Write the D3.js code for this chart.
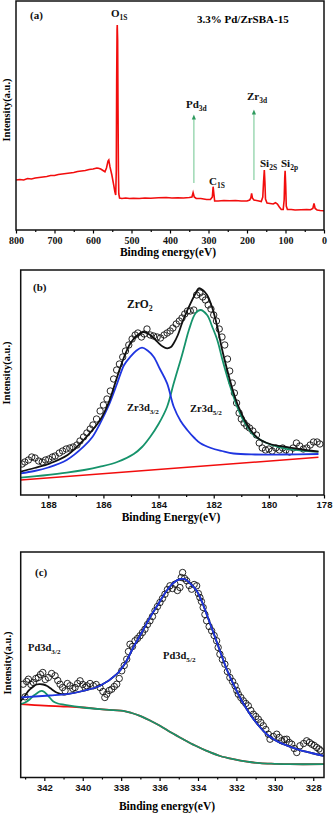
<!DOCTYPE html>
<html>
<head>
<meta charset="utf-8">
<script src="https://cdn.jsdelivr.net/npm/d3@7"></script>
<style>
  body { margin: 0; background: #fff; }
  svg { display: block; }
  .tick text { font-weight: bold; }
</style>
</head>
<body>
<div id="chart"></div>
<script>
// ---- panel (a): survey spectrum, [binding energy, intensity] ----
const surveyA = [
  [800, 50], [790, 50.5], [780, 50], [770, 51.5], [760, 51], [750, 52], [740, 52.5], [730, 53],
  [720, 53.5], [710, 54.5], [700, 54.5], [690, 55.5], [680, 56], [670, 56.5], [660, 57], [650, 57.5],
  [640, 58.5], [630, 59], [620, 59.5], [610, 60.5], [600, 61], [590, 62], [586, 61.7], [580, 61],
  [574, 59.5], [569, 58.3], [565, 62], [561, 69], [559, 70], [556, 63.3], [551, 55], [547, 46.7],
  [543, 38], [541, 35], [539.5, 60], [538.5, 150], [537.5, 200], [537, 205], [536, 190], [535, 120],
  [534, 60], [533, 36], [531, 32], [525, 31.5], [515, 32], [505, 31.5], [495, 31.8], [480, 31.5],
  [465, 32], [450, 31.8], [430, 32.2], [410, 32.5], [395, 32], [380, 32.3], [365, 32], [350, 32.5],
  [343, 33], [340, 37.3], [337, 33], [332, 31.5], [320, 31.5], [305, 30.5], [295, 30.5], [290, 33],
  [288, 43.3], [286, 36], [284, 29], [275, 29], [260, 29.5], [245, 29.2], [230, 29.5], [215, 29],
  [200, 29], [193, 30], [190, 32], [188, 36.7], [186, 32], [182, 30], [172, 29.2], [163, 28.5],
  [159, 33], [157, 48], [155, 60], [153.5, 48], [152, 31], [148, 27], [140, 26.5], [132, 26],
  [126, 27.3], [121, 26], [116, 23], [111, 20.5], [106, 20.5], [103.5, 30], [102, 52], [101, 59.3],
  [99.5, 45], [98, 24], [95, 20.5], [85, 20.5], [75, 20], [60, 20.2], [45, 20.5], [35, 20.2],
  [29, 21.5], [26, 26.7], [23, 21.5], [18, 20], [10, 19.5], [0, 19.3]
];
const arrowsA = [
  { be: 338, from: 47, to: 113 },
  { be: 182, from: 50, to: 118 }
];
const ticksA = [800, 700, 600, 500, 400, 300, 200, 100, 0];
const minorA = [750, 650, 550, 450, 350, 250, 150, 50];

// ---- panel (b): Zr 3d ----
const scatterB = [
  [188.95, 31], [188.85, 33], [188.72, 35], [188.6, 38], [188.48, 37], [188.35, 34], [188.22, 33],
  [188.1, 35], [187.98, 36], [187.85, 38], [187.75, 39], [187.6, 42], [187.48, 44], [187.35, 46],
  [187.22, 47], [187.1, 48], [186.96, 50], [186.85, 54], [186.72, 58], [186.6, 62], [186.48, 66],
  [186.38, 70], [186.25, 76], [186.12, 84], [186.0, 90], [185.87, 96], [185.75, 104], [185.63, 116],
  [185.52, 125], [185.42, 131], [185.3, 138], [185.2, 144], [185.08, 150], [184.96, 156], [184.85, 160],
  [184.75, 162], [184.62, 158], [184.52, 161], [184.42, 166], [184.3, 160], [184.18, 159], [184.05, 158],
  [183.93, 157], [183.8, 160], [183.69, 162], [183.58, 164], [183.48, 167], [183.36, 171], [183.25, 174],
  [183.15, 177], [183.05, 181], [182.95, 184], [182.85, 184], [182.72, 185], [182.62, 200], [182.5, 202],
  [182.4, 198], [182.3, 195], [182.2, 190], [182.1, 186], [182.0, 180], [181.9, 174], [181.8, 166],
  [181.7, 158], [181.6, 150], [181.5, 136], [181.42, 124], [181.33, 112], [181.25, 102], [181.17, 92],
  [181.08, 82], [181.0, 76], [180.9, 72], [180.8, 69], [180.7, 67], [180.58, 64], [180.45, 60],
  [180.35, 52], [180.24, 47], [180.12, 45], [180.0, 46], [179.88, 44], [179.75, 47], [179.62, 45],
  [179.5, 47], [179.38, 45], [179.25, 43], [179.12, 47], [179.0, 52], [178.88, 49], [178.75, 46],
  [178.62, 47], [178.5, 50], [178.38, 53], [178.25, 53], [178.15, 51]
];
const envelopeB = [
  [189, 23.3], [188.5, 27], [187.93, 31.7], [187.3, 40], [186.72, 55], [186.12, 75], [185.8, 93],
  [185.5, 118.3], [185.25, 138], [185.02, 151.7], [184.8, 159], [184.55, 163], [184.3, 160],
  [184.05, 153.3], [183.85, 148.5], [183.69, 146.7], [183.55, 148], [183.45, 151.7], [183.3, 160],
  [183.15, 171.7], [183.0, 182], [182.84, 191.7], [182.65, 202], [182.54, 206.7], [182.4, 205],
  [182.24, 200], [182.05, 187], [181.87, 168.3], [181.7, 146], [181.51, 125], [181.3, 104],
  [181.15, 91.7], [180.95, 79], [180.78, 70], [180.55, 61], [180.3, 55], [179.9, 50.5],
  [179.45, 48.3], [178.8, 45.5], [178.2, 43.3]
];
const peak32B = [
  [189, 21.7], [188.5, 24], [188.0, 27.5], [187.33, 35], [186.72, 48.3], [186.4, 58], [186.12, 71.7],
  [185.8, 90], [185.5, 111.7], [185.25, 130], [185.02, 138.3], [184.8, 144.5], [184.6, 147.3],
  [184.4, 144.5], [184.18, 138.3], [183.95, 126], [183.69, 111.7], [183.45, 88.3], [183.2, 74],
  [182.96, 65], [182.7, 57], [182.48, 51.7], [182.1, 47], [181.7, 44], [181.28, 41.5], [180.5, 40.5],
  [179.5, 40.5], [178.2, 41]
];
const peak52B = [
  [189, 17.3], [188.2, 19.5], [187.33, 22.3], [186.7, 25], [186.12, 28.3], [185.5, 33], [184.9, 41],
  [184.6, 48], [184.3, 58.3], [184.0, 71], [183.69, 88.3], [183.45, 111.7], [183.2, 135], [183.05, 150],
  [182.9, 165], [182.66, 181.7], [182.48, 185], [182.24, 180], [182.05, 168], [181.87, 155],
  [181.7, 137], [181.51, 118.3], [181.3, 100], [181.15, 88.3], [180.95, 76], [180.78, 68.3],
  [180.55, 60], [180.3, 55], [179.9, 50], [179.45, 46.7], [178.8, 44.5], [178.2, 43.3]
];
const baseB = [[189, 15], [178.2, 37.7]];
const ticksB = [188, 186, 184, 182, 180, 178];
const minorB = [187, 185, 183, 181, 179];

// ---- panel (c): Pd 3d ----
const scatterC = [
  [343.1, 93.3], [343.0, 80.7], [342.92, 96], [342.83, 98.3], [342.7, 93], [342.57, 95], [342.44, 99],
  [342.31, 100], [342.2, 103], [342.08, 105], [341.95, 98], [341.79, 100], [341.62, 104], [341.44, 101.7],
  [341.3, 97], [341.18, 93.3], [341.05, 90], [340.92, 86.7], [340.8, 94], [340.66, 91.7], [340.52, 89],
  [340.4, 90], [340.27, 94], [340.14, 96.7], [340.0, 93], [339.88, 90], [339.79, 91.7], [339.62, 94],
  [339.45, 91.7], [339.3, 93], [339.1, 90], [338.95, 86], [338.85, 80], [338.75, 83.3], [338.62, 87],
  [338.49, 88.3], [338.36, 91], [338.23, 93.3], [338.1, 99], [337.97, 106.7], [337.84, 112],
  [337.71, 118.3], [337.62, 126], [337.54, 133.3], [337.41, 131], [337.28, 136.7], [337.15, 139],
  [337.02, 141.7], [336.89, 145], [336.76, 148.3], [336.63, 153], [336.5, 156.7], [336.37, 161],
  [336.24, 166.7], [336.11, 171], [335.98, 175], [335.85, 179], [335.72, 183.3], [335.59, 188],
  [335.46, 191.7], [335.33, 189], [335.2, 193.3], [335.07, 187], [334.94, 190], [334.87, 200],
  [334.8, 205], [334.7, 199], [334.59, 196.7], [334.46, 192], [334.33, 188.3], [334.2, 193],
  [334.07, 191.7], [333.98, 184], [333.9, 180], [333.82, 176], [333.73, 170], [333.64, 163],
  [333.55, 156.7], [333.42, 151], [333.29, 146.7], [333.16, 142], [333.03, 136.7], [332.95, 130],
  [332.86, 123.3], [332.73, 118], [332.6, 113.3], [332.47, 106], [332.34, 100], [332.2, 96],
  [332.07, 91.7], [331.98, 87], [331.9, 83.3], [331.77, 80], [331.64, 76.7], [331.51, 74],
  [331.38, 71.7], [331.25, 67], [331.12, 63.3], [330.99, 61], [330.86, 58.3], [330.73, 55],
  [330.6, 51.7], [330.47, 48], [330.34, 43.3], [330.25, 38.3], [330.08, 41], [329.9, 43.3],
  [329.77, 40], [329.64, 36.7], [329.5, 38], [329.38, 38.3], [329.25, 35], [329.12, 33.3],
  [328.99, 29], [328.86, 25], [328.69, 31.7], [328.5, 34], [328.34, 36.7], [328.2, 35],
  [328.08, 33.3], [327.95, 32], [327.82, 30], [327.7, 28.5], [327.61, 26.7]
];
const envelopeC = [
  [343.23, 76.7], [343.0, 82], [342.83, 86.7], [342.6, 90.5], [342.4, 93], [342.22, 93.3],
  [342.05, 93], [341.88, 91.7], [341.6, 88], [341.36, 85], [341.0, 83], [340.83, 83.3],
  [340.0, 86.5], [339.1, 91.7], [338.23, 103.3], [337.8, 114], [337.37, 130], [336.9, 146],
  [336.5, 160], [336.05, 174], [335.63, 186.7], [335.25, 195], [334.94, 198.3], [334.75, 198.6],
  [334.59, 197.3], [334.35, 193], [334.07, 186.7], [333.8, 176], [333.55, 163.3], [333.2, 145],
  [332.86, 126.7], [332.5, 108], [332.16, 93.3], [331.7, 76], [331.29, 63.3], [330.85, 52],
  [330.42, 43.3], [330.0, 37.5], [329.55, 33.3], [329.1, 30], [328.69, 27.3], [328.1, 24.5],
  [327.45, 21.7]
];
const peak52C = [
  [343.23, 80], [342.5, 81], [341.7, 82], [340.83, 83.3], [340.0, 86.5], [339.1, 91.7], [338.23, 103.3],
  [337.8, 114], [337.37, 130], [336.9, 146], [336.5, 160], [336.05, 174], [335.63, 186.7], [335.25, 195],
  [334.94, 198.3], [334.75, 198.6], [334.59, 197.3], [334.35, 193], [334.07, 186.7], [333.8, 176],
  [333.55, 163.3], [333.2, 145], [332.86, 126.7], [332.5, 108], [332.16, 93.3], [331.7, 76],
  [331.29, 63.3], [330.85, 52], [330.42, 43.3], [330.0, 37.5], [329.55, 33.3], [329.1, 30],
  [328.69, 27.3], [328.1, 24.5], [327.45, 21.7]
];
const peak32C = [
  [343.23, 73.3], [343.0, 75], [342.75, 78.3], [342.55, 82], [342.4, 84], [342.25, 86], [342.14, 86.7],
  [342.0, 85.5], [341.88, 83.3], [341.7, 79.5], [341.53, 76], [341.3, 74], [340.93, 72.7],
  [339.97, 70], [339.1, 68.3], [338.4, 67.3], [337.89, 66.7], [337.45, 64.5], [337.02, 61.7],
  [336.5, 57], [335.98, 51.7], [335.4, 45], [334.77, 38.3], [334.15, 32], [333.55, 26.7],
  [332.85, 21.5], [332.16, 18.3], [331.45, 15.8], [330.77, 14.3], [330.0, 13.7], [329.21, 13.3],
  [327.45, 13.3]
];
const baseC = [
  [343.23, 73.3], [342.0, 71.8], [341.0, 71], [340.0, 70], [339.1, 68.3], [338.4, 67.3],
  [337.89, 66.7], [337.45, 64.5], [337.02, 61.7], [336.5, 57], [335.98, 51.7], [335.4, 45],
  [334.77, 38.3], [334.15, 32], [333.55, 26.7], [332.85, 21.5], [332.16, 18.3], [331.45, 15.8],
  [330.77, 14.3], [330.0, 13.7], [329.21, 13.3], [327.45, 13.3]
];
const ticksC = [342, 340, 338, 336, 334, 332, 330, 328];
const minorC = [343, 341, 339, 337, 335, 333, 331, 329];

const W = 333, H = 813;
const RED = "#f20d0d", BLUE = "#1f35e0", GREEN = "#16936b", BLACK = "#111";
const serif = "'Liberation Serif', 'Times New Roman', serif";
const sans = "'Liberation Sans', Arial, sans-serif";

const svg = d3.select("#chart").append("svg")
  .attr("width", W).attr("height", H);

function panel(opt) {
  const x = d3.scaleLinear().domain(opt.xDomain).range([opt.left, opt.right]);
  const y = d3.scaleLinear().domain(opt.yDomain).range([opt.bottom, opt.top]);
  const g = svg.append("g");

  // minor + major ticks (outward)
  g.append("g")
    .attr("transform", `translate(0,${opt.bottom})`)
    .call(d3.axisBottom(x).tickValues(opt.minor).tickSize(2).tickFormat(""))
    .call(a => a.select(".domain").remove())
    .call(a => a.selectAll("line").attr("stroke-width", 1.2));
  g.append("g")
    .attr("transform", `translate(0,${opt.bottom})`)
    .call(d3.axisBottom(x).tickValues(opt.major).tickSize(3.5).tickPadding(3))
    .call(a => a.select(".domain").remove())
    .call(a => a.selectAll("line").attr("stroke-width", 1.2))
    .call(a => a.selectAll("text")
      .attr("font-family", opt.tickFont)
      .attr("font-size", opt.tickSize)
      .attr("fill", "#111"));

  const clip = "clip" + opt.id;
  svg.append("clipPath").attr("id", clip).append("rect")
    .attr("x", opt.left).attr("y", opt.top)
    .attr("width", opt.right - opt.left).attr("height", opt.bottom - opt.top);
  const plot = g.append("g").attr("clip-path", `url(#${clip})`);

  const line = d3.line()
    .x(d => x(d[0])).y(d => y(d[1]))
    .curve(opt.curve || d3.curveLinear);

  if (opt.scatter) {
    plot.selectAll("circle")
      .data(opt.scatter)
      .enter().append("circle")
      .attr("cx", d => x(d[0]))
      .attr("cy", d => y(d[1]))
      .attr("r", 3.2)
      .attr("fill", "none")
      .attr("stroke", "#111")
      .attr("stroke-width", 0.9);
  }

  opt.lines.forEach(l => {
    plot.append("path")
      .datum(l.data)
      .attr("fill", "none")
      .attr("stroke", l.color)
      .attr("stroke-width", l.width)
      .attr("d", line);
  });

  // frame
  g.append("rect")
    .attr("x", opt.left).attr("y", opt.top)
    .attr("width", opt.right - opt.left).attr("height", opt.bottom - opt.top)
    .attr("fill", "none").attr("stroke", "#111").attr("stroke-width", 1.5);

  // axis titles
  g.append("text")
    .attr("x", opt.xTitleX).attr("y", opt.xTitleY)
    .attr("text-anchor", "middle")
    .attr("font-family", serif).attr("font-weight", "bold").attr("font-size", 11.5)
    .text(opt.xTitle);
  g.append("text")
    .attr("transform", `translate(${opt.yTitleX},${opt.yTitleY}) rotate(-90)`)
    .attr("text-anchor", "middle")
    .attr("font-family", serif).attr("font-weight", "bold").attr("font-size", 10.5)
    .text("Intensity(a.u.)");

  return { x, y, g };
}

// label with optional subscript
function label(g, px, py, main, sub, size, rest) {
  const t = g.append("text")
    .attr("x", px).attr("y", py)
    .attr("font-family", serif).attr("font-weight", "bold")
    .attr("font-size", size).attr("fill", "#111");
  t.append("tspan").text(main);
  if (sub) {
    t.append("tspan").attr("font-size", size * 0.68).attr("dy", size * 0.25).text(sub);
  }
  if (rest) {
    t.append("tspan").attr("dy", -size * 0.25).text(rest);
  }
  return t;
}

// ---------- (a) ----------
const pa = panel({
  id: "a", left: 16, right: 324, top: 1, bottom: 230,
  xDomain: [800, 0], yDomain: [0, 229],
  major: ticksA, minor: minorA, tickFont: serif, tickSize: 10,
  lines: [{ data: surveyA, color: RED, width: 1.6 }],
  xTitle: "Binding energy(eV)", xTitleX: 168, xTitleY: 256,
  yTitleX: 10, yTitleY: 110
});

svg.append("defs").append("marker")
  .attr("id", "arrowhead")
  .attr("viewBox", "0 0 10 10")
  .attr("refX", 5).attr("refY", 5)
  .attr("markerWidth", 4).attr("markerHeight", 5)
  .attr("orient", "auto")
  .append("path").attr("d", "M0,1 L10,5 L0,9 Z").attr("fill", "#2e9a5e");

pa.g.selectAll(".arrow")
  .data(arrowsA)
  .enter().append("line")
  .attr("class", "arrow")
  .attr("x1", d => pa.x(d.be)).attr("x2", d => pa.x(d.be))
  .attr("y1", d => pa.y(d.from)).attr("y2", d => pa.y(d.to))
  .attr("stroke", "#8fd3a8").attr("stroke-width", 1.3)
  .attr("marker-end", "url(#arrowhead)");

label(pa.g, 30, 19, "(a)", null, 11);
label(pa.g, 111, 17, "O", "1S", 11);
pa.g.append("text").attr("x", 197).attr("y", 23)
  .attr("font-family", serif).attr("font-weight", "bold").attr("font-size", 11)
  .text("3.3% Pd/ZrSBA-15");
label(pa.g, 186, 108, "Pd", "3d", 11);
label(pa.g, 247, 100, "Zr", "3d", 11);
label(pa.g, 209, 185, "C", "1S", 11);
label(pa.g, 260, 167, "Si", "2S", 11);
label(pa.g, 281, 167, "Si", "2p", 11);

// ---------- (b) ----------
const pb = panel({
  id: "b", left: 20.7, right: 324, top: 270, bottom: 495,
  xDomain: [189, 178], yDomain: [0, 225],
  major: ticksB, minor: minorB, tickFont: sans, tickSize: 9.5,
  scatter: scatterB, curve: d3.curveCatmullRom.alpha(0.5),
  lines: [
    { data: baseB, color: RED, width: 1.6 },
    { data: peak52B, color: GREEN, width: 1.8 },
    { data: peak32B, color: BLUE, width: 1.8 },
    { data: envelopeB, color: BLACK, width: 1.8 }
  ],
  xTitle: "Binding Energy(eV)", xTitleX: 171, xTitleY: 521,
  yTitleX: 10, yTitleY: 373
});
label(pb.g, 33, 291, "(b)", null, 11);
label(pb.g, 127, 308, "ZrO", "2", 11.5);
label(pb.g, 127, 411, "Zr3d", "3/2", 10.5);
label(pb.g, 190, 412, "Zr3d", "5/2", 10.5);

// ---------- (c) ----------
const pc = panel({
  id: "c", left: 20.7, right: 324, top: 552, bottom: 777.5,
  xDomain: [343.23, 327.44], yDomain: [0, 225.5],
  major: ticksC, minor: minorC, tickFont: sans, tickSize: 9.5,
  scatter: scatterC, curve: d3.curveCatmullRom.alpha(0.5),
  lines: [
    { data: baseC, color: RED, width: 1.8 },
    { data: envelopeC, color: BLACK, width: 1.8 },
    { data: peak32C, color: GREEN, width: 1.8 },
    { data: peak52C, color: BLUE, width: 1.8 }
  ],
  xTitle: "Binding energy(eV)", xTitleX: 167, xTitleY: 810,
  yTitleX: 11, yTitleY: 663
});
label(pc.g, 35, 576, "(c)", null, 11);
label(pc.g, 28, 651, "Pd3d", "3/2", 10.5);
label(pc.g, 163, 659, "Pd3d", "5/2", 10.5);
</script>
</body>
</html>
